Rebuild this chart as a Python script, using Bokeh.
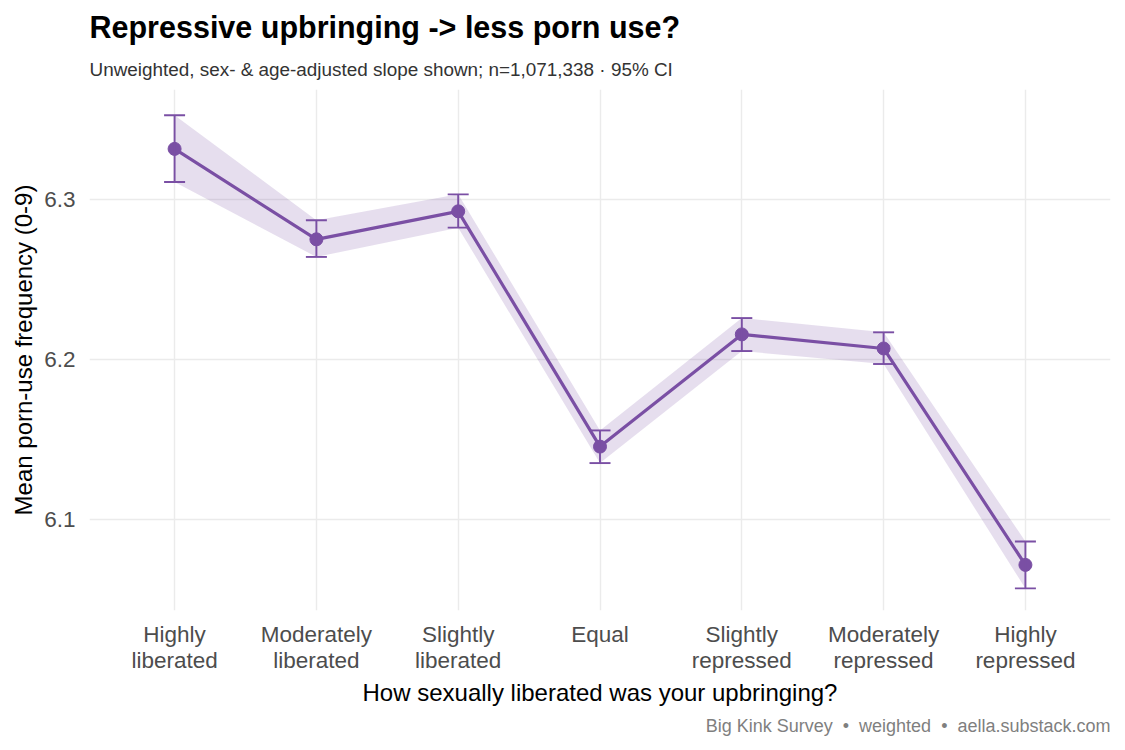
from bokeh.plotting import figure
from bokeh.models import ColumnDataSource, Whisker, TeeHead, Range1d, FactorRange, FixedTicker, Title
from bokeh.embed import file_html
from bokeh.resources import INLINE

# ---- data ----
categories = ["Highly\nliberated", "Moderately\nliberated", "Slightly\nliberated", "Equal",
              "Slightly\nrepressed", "Moderately\nrepressed", "Highly\nrepressed"]
mean_freq = [6.3315, 6.2750, 6.2925, 6.1455, 6.2156, 6.2068, 6.0716]
ci_lower = [6.3108, 6.2640, 6.2823, 6.1352, 6.2052, 6.1971, 6.0569]
ci_upper = [6.3525, 6.2869, 6.3031, 6.1556, 6.2258, 6.2169, 6.0862]
y_ticks = [6.1, 6.2, 6.3]

title_text = "Repressive upbringing -> less porn use?"
subtitle_text = "Unweighted, sex- & age-adjusted slope shown; n=1,071,338 \u00b7 95% CI"
caption_text = "Big Kink Survey \u00a0\u2022\u00a0 weighted \u00a0\u2022\u00a0 aella.substack.com"
x_title = "How sexually liberated was your upbringing?"
y_title = "Mean porn-use frequency (0-9)"

PURPLE = "#7a4fa4"
FONT = "Liberation Sans"

src = ColumnDataSource(dict(cat=categories, mean=mean_freq, lower=ci_lower, upper=ci_upper))

p = figure(width=1125, height=750,
           x_range=FactorRange(factors=categories, range_padding=0.1, range_padding_units="absolute"),
           y_range=Range1d(6.0431, 6.3686),
           output_backend="svg", toolbar_location=None, title=None,
           min_border_left=89, min_border_right=15, min_border_top=89, min_border_bottom=140)
p.outline_line_color = None
p.background_fill_color = "white"
p.border_fill_color = "white"

# grid
p.ygrid.ticker = FixedTicker(ticks=y_ticks)
p.xgrid.grid_line_color = "#ebebeb"
p.ygrid.grid_line_color = "#ebebeb"
p.xgrid.grid_line_width = 1.4
p.ygrid.grid_line_width = 1.4

# axes
p.yaxis.ticker = FixedTicker(ticks=y_ticks)
for ax in (p.xaxis[0], p.yaxis[0]):
    ax.axis_line_color = None
    ax.major_tick_line_color = None
    ax.minor_tick_line_color = None
    ax.major_tick_out = 0
    ax.major_tick_in = 0
    ax.major_label_text_font = FONT
    ax.major_label_text_font_size = "22.5px"
    ax.major_label_text_color = "#4d4d4d"
    ax.axis_label_text_font = FONT
    ax.axis_label_text_font_size = "24px"
    ax.axis_label_text_font_style = "normal"
    ax.axis_label_text_color = "black"

p.xaxis.axis_label = x_title
p.xaxis.major_label_standoff = 11
p.xaxis.major_label_text_line_height = 1.07
p.xaxis.axis_label_standoff = 3
p.yaxis.axis_label = y_title
p.yaxis.major_label_standoff = 14
p.yaxis.axis_label_standoff = 4

# ribbon
p.varea(x="cat", y1="lower", y2="upper", source=src, fill_color=PURPLE, fill_alpha=0.19)

# error bars
w = Whisker(source=src, base="cat", upper="upper", lower="lower",
            line_color=PURPLE, line_width=1.9,
            upper_head=TeeHead(size=21, line_color=PURPLE, line_width=1.9),
            lower_head=TeeHead(size=21, line_color=PURPLE, line_width=1.9))
w.level = "glyph"
p.add_layout(w)

# line and points
p.line(x="cat", y="mean", source=src, line_color=PURPLE, line_width=3.2)
p.scatter(x="cat", y="mean", source=src, size=13, fill_color=PURPLE, line_color=PURPLE)

# titles (first added sits closest to the frame) and caption
p.add_layout(Title(text=subtitle_text, align="left", text_font=FONT, text_font_size="18.9px",
                   text_font_style="normal", text_color="#333333", standoff=20), "above")
p.add_layout(Title(text=title_text, align="left", text_font=FONT, text_font_size="30.5px",
                   text_font_style="bold", text_color="black", standoff=6), "above")
p.add_layout(Title(text=caption_text, align="right", text_font=FONT, text_font_size="18px",
                   text_font_style="normal", text_color="#7f7f7f", standoff=8), "below")

open("out.html", "w").write(file_html(p, INLINE))
